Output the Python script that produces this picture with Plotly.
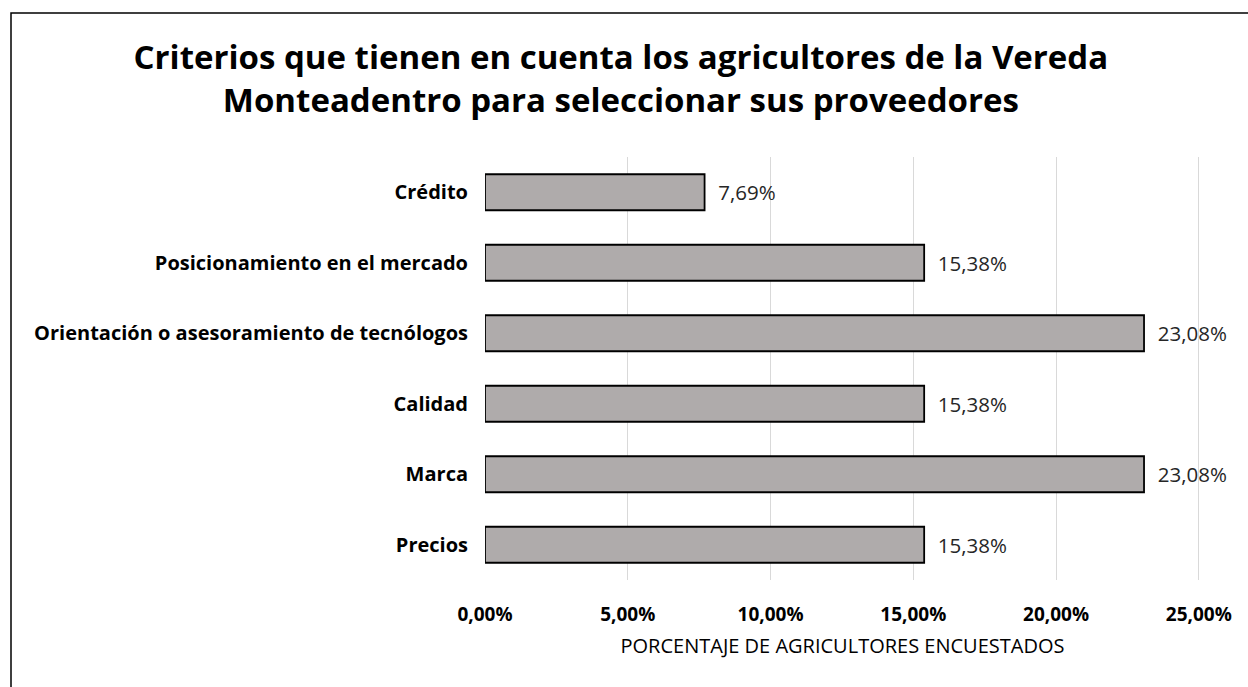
import plotly.graph_objects as go

categories = ["Precios", "Marca", "Calidad",
              "Orientación o asesoramiento de tecnólogos",
              "Posicionamiento en el mercado", "Crédito"]
values = [15.38, 23.08, 15.38, 23.08, 15.38, 7.69]
tick_vals = [0, 5, 10, 15, 20, 25]
tick_text = [f"{v:.2f}%".replace(".", ",") for v in tick_vals]

title_text = ("Criterios que tienen en cuenta los agricultores de la Vereda<br>"
              "Monteadentro para seleccionar sus proveedores")
x_title = "PORCENTAJE DE AGRICULTORES ENCUESTADOS"

FONT = "Open Sans"
W, H = 1248, 687
ML, MR, MT, MB = 485, 48, 157, 107

fig = go.Figure(go.Bar(
    y=categories, x=values, orientation="h",
    marker=dict(color="#AFABAB", line=dict(color="#000000", width=1.8)),
    width=0.51,
    texttemplate="  %{x:.2f}%", textposition="outside",
    textfont=dict(family=FONT, size=20.5, color="#262626"),
    cliponaxis=False,
))

pw = W - ML - MR
ph = H - MT - MB

fig.update_layout(
    width=W, height=H,
    paper_bgcolor="white", plot_bgcolor="white",
    separators=",.",
    margin=dict(l=ML, r=MR, t=MT, b=MB),
    showlegend=False,
    title=dict(text=title_text, x=0.4975, xanchor="center",
               y=1 - 69 / H, yref="container", yanchor="middle",
               font=dict(family=FONT, size=33, color="#000000", weight="bold")),
    xaxis=dict(range=[0, 25.04], tickvals=tick_vals, ticktext=tick_text,
               showgrid=True, gridcolor="#D9D9D9", gridwidth=1.3,
               zeroline=False, showline=False,
               ticks="outside", ticklen=17, tickcolor="rgba(0,0,0,0)",
               tickfont=dict(family=FONT, size=19, color="#000000", weight="bold"),
               title=dict(text=x_title, standoff=13,
                          font=dict(family=FONT, size=20, color="#000000"))),
    yaxis=dict(categoryorder="array", categoryarray=categories,
               showgrid=False, zeroline=False, showline=False,
               ticks="outside", ticklen=12, tickcolor="rgba(0,0,0,0)",
               tickfont=dict(family=FONT, size=20, color="#000000", weight="bold")),
    bargap=0.49,
    shapes=[dict(type="rect", xref="paper", yref="paper",
                 x0=(11 - ML) / pw, x1=(W + 20 - ML) / pw,
                 y0=(H - MB - (H + 20)) / ph, y1=(H - MB - 13) / ph,
                 line=dict(color="black", width=1.5),
                 fillcolor="rgba(0,0,0,0)", layer="below")],
)

fig.write_html("out.html", config={"displayModeBar": False},
               post_script="document.body.style.margin='0';")
